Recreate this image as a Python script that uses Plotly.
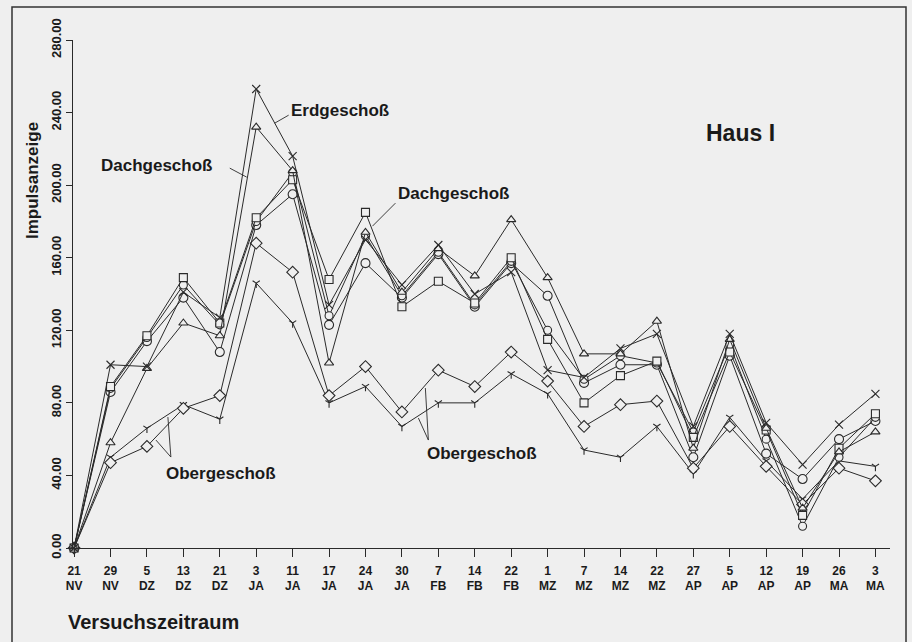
import plotly.graph_objects as go

# ---- data ----
dates = ["21<br>NV", "29<br>NV", "5<br>DZ", "13<br>DZ", "21<br>DZ", "3<br>JA", "11<br>JA",
         "17<br>JA", "24<br>JA", "30<br>JA", "7<br>FB", "14<br>FB", "22<br>FB", "1<br>MZ",
         "7<br>MZ", "14<br>MZ", "22<br>MZ", "27<br>AP", "5<br>AP", "12<br>AP", "19<br>AP",
         "26<br>MA", "3<br>MA"]

erd_kreuz = [0, 101, 100, 141, 127, 253, 216, 134, 170, 145, 167, 140, 152, 98, 94, 110, 118, 67, 118, 69, 46, 68, 85]
dach_dreieck = [0, 58, 99, 124, 117, 232, 208, 102, 174, 141, 165, 150, 181, 149, 107, 107, 125, 55, 115, 66, 22, 53, 64]
dach_quadrat = [0, 89, 117, 149, 124, 182, 203, 148, 185, 133, 147, 135, 160, 115, 80, 95, 103, 61, 108, 65, 18, 55, 74]
erd_kreis = [0, 86, 114, 138, 108, 178, 195, 123, 157, 138, 162, 133, 157, 139, 91, 101, 101, 50, 106, 52, 38, 60, 70]
erd_kreis2 = [0, 88, 116, 145, 123, 180, 207, 128, 172, 139, 163, 134, 158, 120, 93, 106, 102, 64, 112, 60, 12, 50, 72]
ober_raute = [0, 47, 56, 77, 84, 168, 152, 84, 100, 75, 98, 89, 108, 92, 67, 79, 81, 44, 67, 45, 24, 44, 37]
ober_strich = [0, 50, 66, 79, 71, 146, 124, 80, 89, 67, 80, 80, 96, 85, 54, 50, 67, 41, 72, 48, 27, 48, 45]

y_ticks = [0, 40, 80, 120, 160, 200, 240, 280]

BG = "#efefef"
INK = "#2a2a2a"
FONT = "Liberation Sans, Arial, Helvetica, sans-serif"

idx = list(range(len(dates)))

fig = go.Figure()

def add(vals, symbol, size, filled=True):
    marker = dict(symbol=symbol, size=size, line=dict(color=INK, width=1.1))
    marker["color"] = BG if filled else INK
    fig.add_trace(go.Scatter(x=idx, y=vals, mode="lines+markers",
                             line=dict(color=INK, width=1),
                             marker=marker, cliponaxis=False, showlegend=False))

add(ober_strich, "y-down", 6, filled=False)
add(ober_raute, "diamond", 9)
add(erd_kreis, "circle", 9)
add(erd_kreis2, "circle", 8)
add(dach_quadrat, "square", 8)
add(dach_dreieck, "triangle-up", 8)
add(erd_kreuz, "x-thin", 8, filled=False)

# helpers for leader-line coordinates (pixel -> data)
def dx(px):
    return (px - 73) / 36.5

def dy(py):
    return (548 - py) / 1.815

leaders = [
    ((288, 115), (274, 123)),
    ((229, 168), (246, 177)),
    ((395, 203), (372, 226)),
    ((170, 457), (155, 440)),
    ((170, 457), (167, 417)),
    ((428, 440), (418, 418)),
    ((428, 440), (425, 388)),
]
shapes = []
for (a, b) in leaders:
    shapes.append(dict(type="line", xref="x", yref="y", x0=dx(a[0]), y0=dy(a[1]),
                       x1=dx(b[0]), y1=dy(b[1]), line=dict(color=INK, width=0.9)))

# outer frame
shapes.append(dict(type="rect", xref="paper", yref="paper",
                   x0=(12 - 73) / 817, x1=(906 - 73) / 817,
                   y0=(548 - 700) / 508, y1=(548 - 7) / 508,
                   line=dict(color="#333333", width=1.5)))

def lab(text, px, py, size=17, anchor="left"):
    return dict(text=text, x=dx(px), y=dy(py), xref="x", yref="y", xanchor=anchor,
                yanchor="middle", showarrow=False,
                font=dict(family=FONT, size=size, color="#1a1a1a", weight="bold"))

annotations = [
    lab("Erdgeschoß", 288, 110),
    lab("Dachgeschoß", 98, 165),
    lab("Dachgeschoß", 396, 193),
    lab("Obergeschoß", 163, 473),
    lab("Obergeschoß", 425, 453),
    lab("Haus I", 704, 133, size=23),
    dict(text="Versuchszeitraum", x=(66 - 73) / 817, y=(548 - 622) / 508,
         xref="paper", yref="paper", xanchor="left", yanchor="middle", showarrow=False,
         font=dict(family=FONT, size=20, color="#1a1a1a", weight="bold")),
    dict(text="Impulsanzeige", x=(33 - 73) / 817, y=(548 - 181) / 508,
         xref="paper", yref="paper", xanchor="center", yanchor="middle", showarrow=False,
         textangle=-90,
         font=dict(family=FONT, size=17, color="#1a1a1a", weight="bold")),
]

fig.update_layout(
    width=912, height=642,
    margin=dict(l=73, r=22, t=40, b=94),
    paper_bgcolor=BG, plot_bgcolor=BG,
    shapes=shapes, annotations=annotations,
    font=dict(family=FONT, color="#1a1a1a"),
)

fig.update_xaxes(
    range=[-0.03, 22.4], tickmode="array", tickvals=idx, ticktext=dates,
    ticks="outside", ticklen=8, tickcolor=INK, tickwidth=1,
    showline=True, linecolor=INK, linewidth=1.2, showgrid=False, zeroline=False,
    ticklabelstandoff=3,
    tickfont=dict(family=FONT, size=12, weight="bold"),
)
fig.update_yaxes(
    range=[0, 280], tickmode="array", tickvals=y_ticks, tickformat=".2f",
    tickangle=-90, ticks="outside", ticklen=6, tickcolor=INK, tickwidth=1,
    showline=True, linecolor=INK, linewidth=1.2, showgrid=False, zeroline=False,
    tickfont=dict(family=FONT, size=13, weight="bold"),
)

fig.write_html("out.html", config={"displayModeBar": False},
               post_script="document.body.style.margin='0';document.body.style.overflow='hidden';")
